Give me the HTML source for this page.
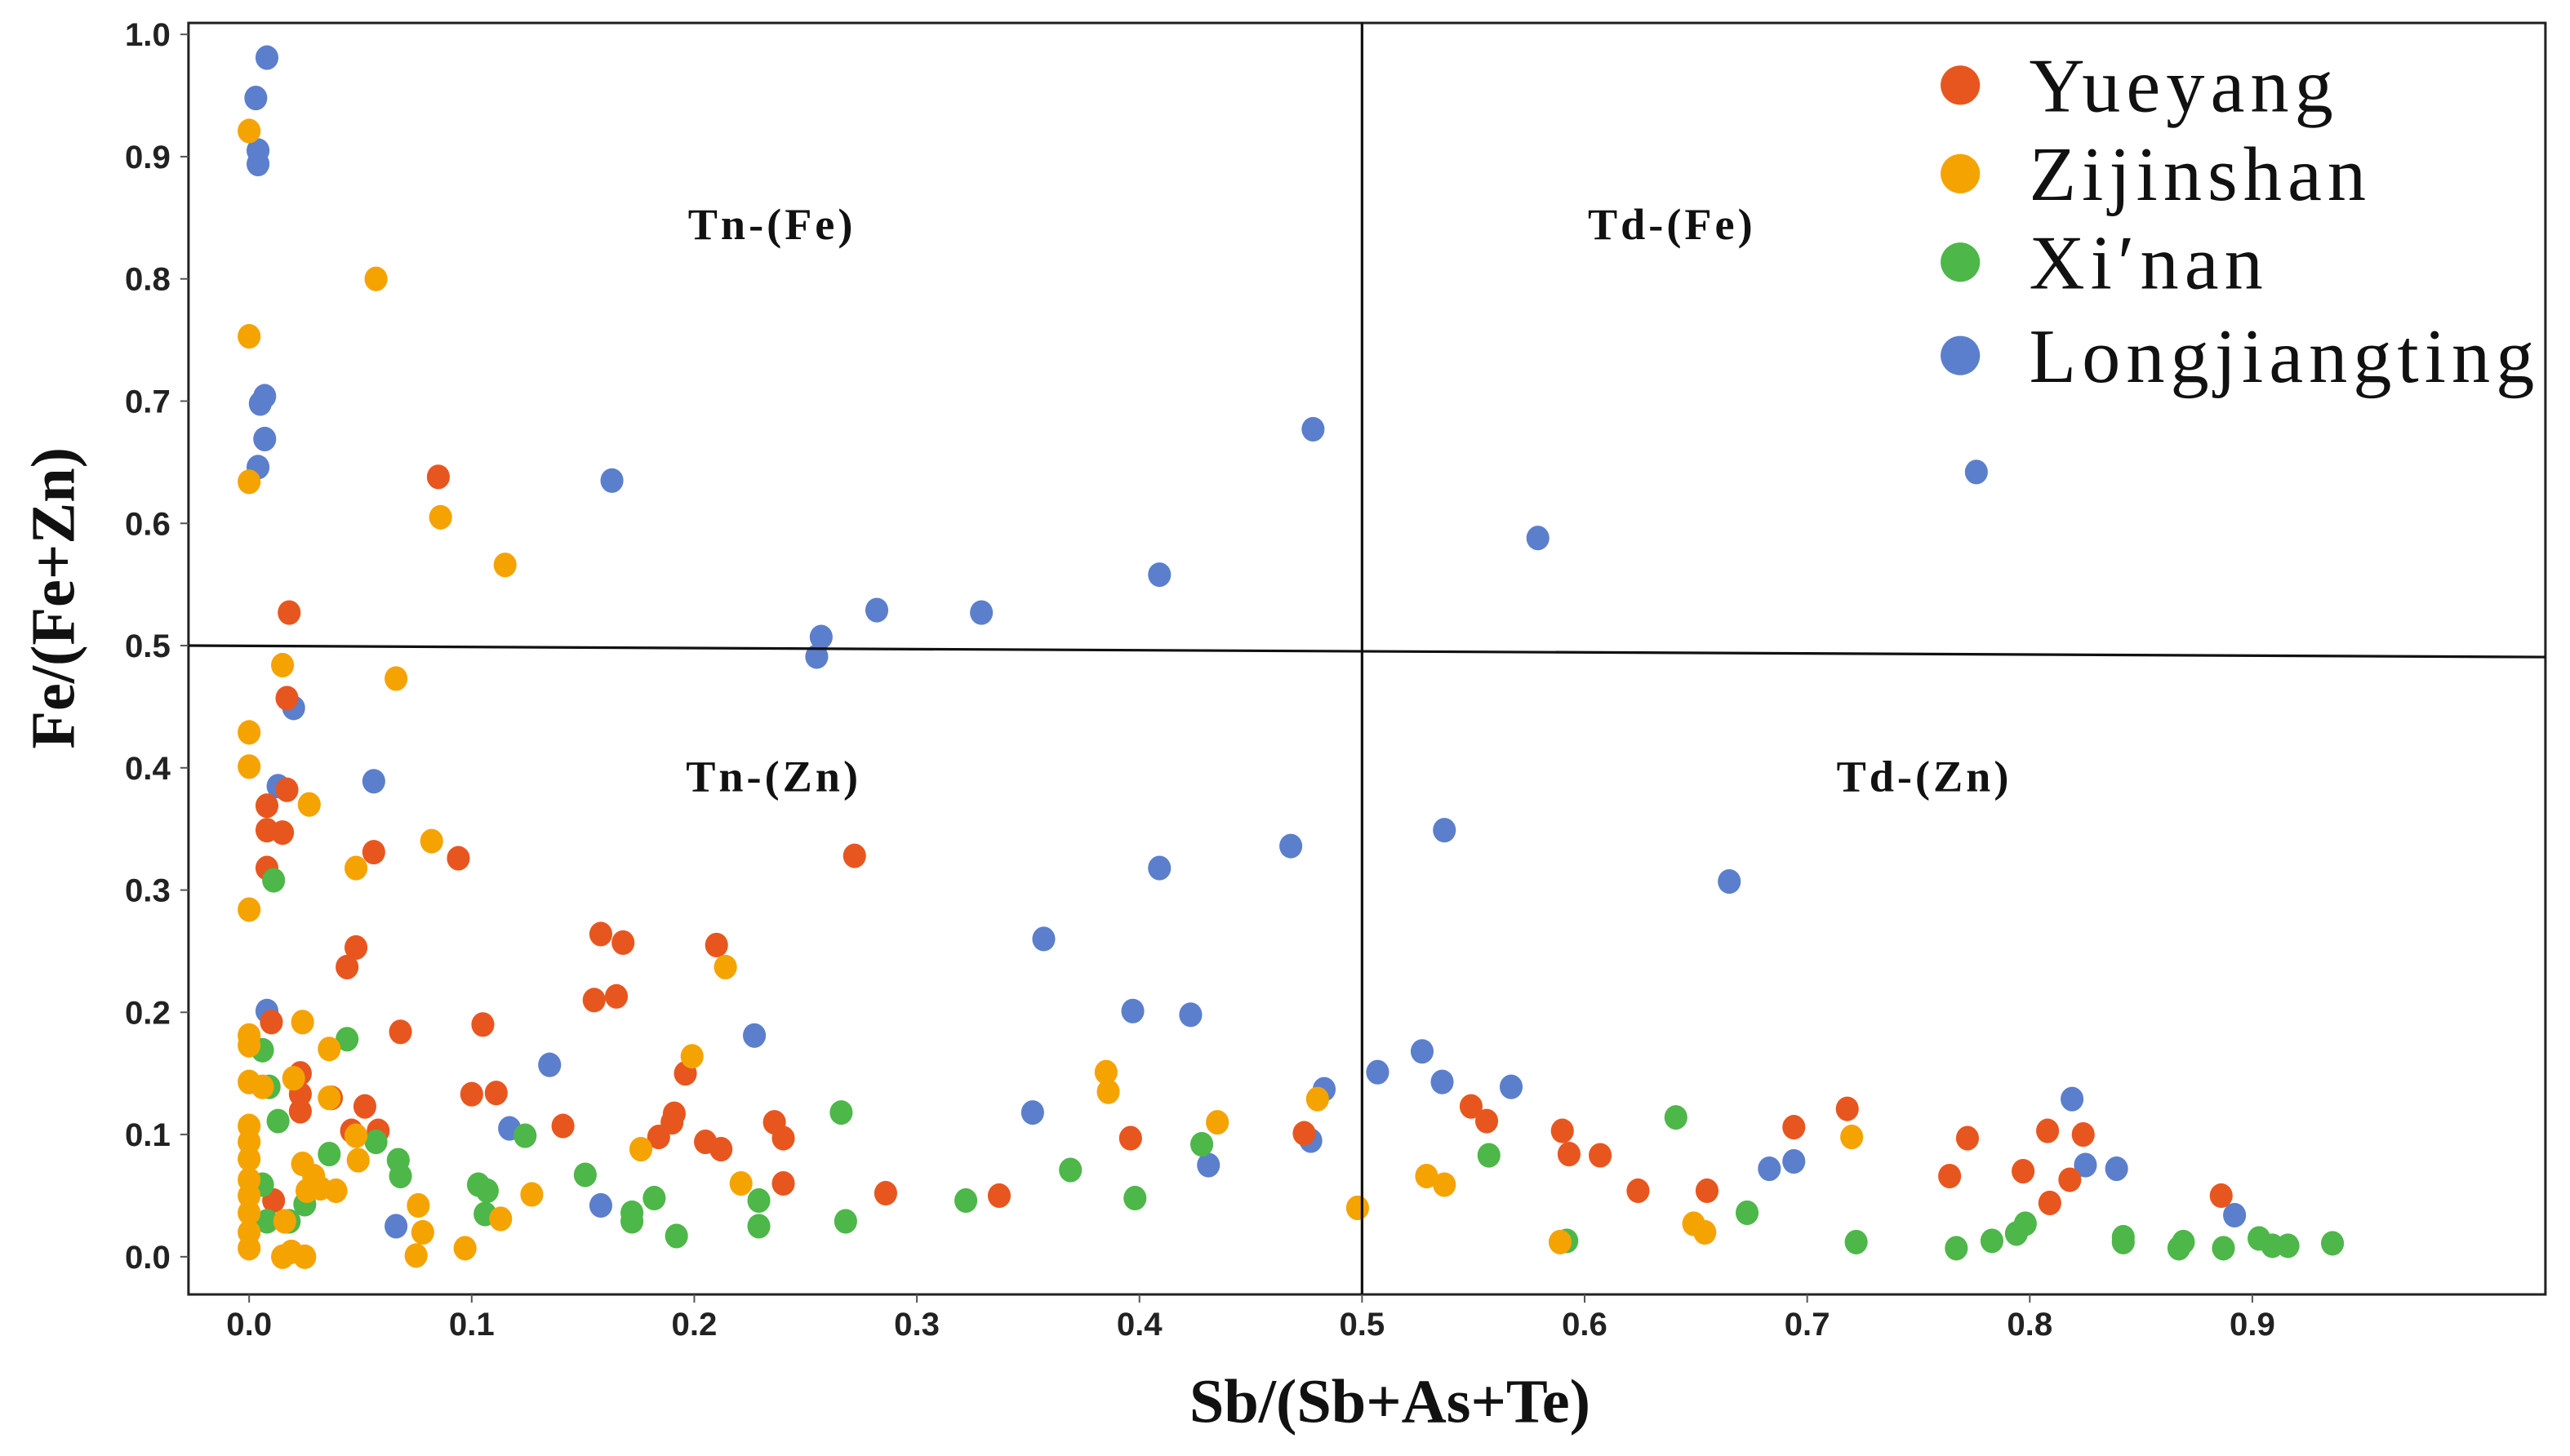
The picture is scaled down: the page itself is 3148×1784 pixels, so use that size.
<!DOCTYPE html>
<html><head><meta charset="utf-8"><style>
html,body{margin:0;padding:0;background:#fff;}
svg{display:block;}
</style></head><body>
<svg id="chart" width="3148" height="1784" viewBox="0 0 1568 888.6" preserveAspectRatio="none" xmlns="http://www.w3.org/2000/svg">
<rect x="0" y="0" width="1568" height="889" fill="#fff"/>
<rect x="115" y="14" width="1438" height="776" fill="none" stroke="#222" stroke-width="1.5"/>
<g id="ticks"></g>
<g id="points"></g>
<line x1="831" y1="14" x2="831" y2="790" stroke="#111" stroke-width="1.6"/>
<line x1="115" y1="394" x2="1553" y2="401" stroke="#111" stroke-width="1.6"/>
<g font-family="Liberation Serif, serif" font-weight="bold" font-size="27" text-anchor="middle" fill="#111" letter-spacing="2">
<text x="471" y="146">Tn-(Fe)</text>
<text x="1020" y="146">Td-(Fe)</text>
<text x="472" y="483">Tn-(Zn)</text>
<text x="1174" y="483">Td-(Zn)</text>
</g>
<text x="848" y="868" font-family="Liberation Serif, serif" font-weight="bold" font-size="38" text-anchor="middle" fill="#111">Sb/(Sb+As+Te)</text>
<text transform="translate(45,365) rotate(-90)" font-family="Liberation Serif, serif" font-weight="bold" font-size="38" text-anchor="middle" fill="#111">Fe/(Fe+Zn)</text>
<g id="legend" font-family="Liberation Serif, serif" font-size="47" fill="#111" letter-spacing="3.5"></g>
</svg>
<script>
const xTicks = [0.0,0.1,0.2,0.3,0.4,0.5,0.6,0.7,0.8,0.9];
const yTicks = [0.0,0.1,0.2,0.3,0.4,0.5,0.6,0.7,0.8,0.9,1.0];
const seriesNames = ["Yueyang","Zijinshan","Xi\u2032nan","Longjiangting"];
const seriesColors = ["#E8561F","#F5A300","#4DB749","#5B7FCC"];
const yueyangX = [0.085,0.018,0.017,0.017,0.008,0.008,0.015,0.008,0.056,0.094,0.272,0.048,0.044,0.010,0.068,0.105,0.158,0.168,0.210,0.155,0.165,0.023,0.023,0.023,0.037,0.052,0.100,0.111,0.196,0.191,0.190,0.184,0.141,0.046,0.058,0.205,0.212,0.236,0.240,0.240,0.286,0.337,0.396,0.474,0.011,0.549,0.556,0.590,0.593,0.607,0.624,0.655,0.694,0.718,0.772,0.764,0.797,0.808,0.824,0.818,0.809,0.886];
const yueyangY = [0.638,0.527,0.457,0.382,0.369,0.349,0.347,0.318,0.331,0.326,0.328,0.253,0.237,0.192,0.184,0.190,0.264,0.257,0.255,0.210,0.213,0.150,0.133,0.119,0.130,0.123,0.133,0.134,0.150,0.117,0.110,0.098,0.107,0.103,0.103,0.094,0.088,0.110,0.097,0.060,0.052,0.050,0.097,0.101,0.046,0.123,0.111,0.103,0.084,0.083,0.054,0.054,0.106,0.121,0.097,0.066,0.070,0.103,0.100,0.063,0.044,0.050];
const zijinshanX = [0,0.057,0,0,0.086,0.115,0.015,0.066,0,0,0.027,0.082,0.048,0,0.214,0,0,0.024,0.036,0,0.006,0.020,0.036,0.199,0.385,0.386,0.480,0,0,0.048,0.435,0.720,0,0,0,0,0,0,0.024,0.029,0.026,0.032,0.039,0.049,0.016,0.015,0.019,0.025,0.075,0.078,0.076,0.097,0.113,0.127,0.176,0.221,0.498,0.529,0.537,0.589,0.649,0.654];
const zijinshanY = [0.921,0.800,0.753,0.634,0.605,0.566,0.484,0.473,0.429,0.401,0.370,0.340,0.318,0.284,0.237,0.181,0.173,0.192,0.170,0.143,0.139,0.146,0.130,0.164,0.151,0.135,0.129,0.107,0.094,0.099,0.110,0.098,0.080,0.063,0.050,0.036,0.020,0.007,0.076,0.066,0.054,0.056,0.054,0.079,0.029,0.000,0.004,0.000,0.001,0.020,0.042,0.007,0.031,0.051,0.088,0.060,0.040,0.066,0.059,0.012,0.027,0.020];
const xinanX = [0.011,0.044,0.006,0.009,0.013,0.036,0.057,0.067,0.068,0.025,0.018,0.008,0.006,0.103,0.107,0.106,0.124,0.151,0.172,0.182,0.172,0.192,0.229,0.229,0.266,0.268,0.322,0.369,0.398,0.428,0.592,0.557,0.641,0.673,0.722,0.767,0.783,0.794,0.798,0.842,0.842,0.867,0.869,0.887,0.903,0.909,0.916,0.936];
const xinanY = [0.308,0.178,0.169,0.139,0.111,0.084,0.094,0.079,0.066,0.043,0.029,0.029,0.059,0.059,0.054,0.035,0.099,0.067,0.029,0.048,0.036,0.017,0.046,0.025,0.118,0.029,0.046,0.071,0.048,0.092,0.013,0.083,0.114,0.036,0.012,0.007,0.013,0.019,0.027,0.016,0.012,0.007,0.012,0.007,0.015,0.009,0.009,0.011];
const longX = [0.008,0.003,0.004,0.004,0.007,0.005,0.007,0.004,0.163,0.478,0.776,0.579,0.409,0.282,0.329,0.257,0.255,0.020,0.013,0.056,0.537,0.665,0.468,0.409,0.357,0.397,0.423,0.227,0.008,0.135,0.507,0.527,0.536,0.567,0.483,0.352,0.117,0.477,0.431,0.819,0.825,0.839,0.683,0.694,0.892,0.158,0.066];
const longY = [0.981,0.948,0.905,0.894,0.704,0.698,0.669,0.646,0.635,0.677,0.642,0.588,0.558,0.529,0.527,0.507,0.491,0.449,0.385,0.389,0.349,0.307,0.336,0.318,0.260,0.201,0.198,0.181,0.201,0.157,0.151,0.168,0.143,0.139,0.137,0.118,0.105,0.095,0.075,0.129,0.075,0.072,0.072,0.078,0.034,0.042,0.025];

const NS = "http://www.w3.org/2000/svg";
function xs(v){ return 152 + v*1358; }
function ys(v){ return 767 - v*746; }

const tg = document.getElementById('ticks');
xTicks.forEach(function(t){
  const l = document.createElementNS(NS,'line');
  l.setAttribute('x1', xs(t)); l.setAttribute('x2', xs(t));
  l.setAttribute('y1', 790); l.setAttribute('y2', 795);
  l.setAttribute('stroke', '#555'); l.setAttribute('stroke-width', '1');
  
  
  tg.appendChild(l);
  const tx = document.createElementNS(NS,'text');
  tx.setAttribute('x', xs(t)); tx.setAttribute('y', 815);
  tx.setAttribute('text-anchor', 'middle');
  tx.setAttribute('font-family', 'Liberation Sans, sans-serif');
  tx.setAttribute('font-weight', 'bold'); tx.setAttribute('font-size', '20');
  tx.setAttribute('fill', '#222');
  tx.textContent = t.toFixed(1);
  
  
  tg.appendChild(tx);
});
yTicks.forEach(function(t){
  const l = document.createElementNS(NS,'line');
  l.setAttribute('x1', 110); l.setAttribute('x2', 115);
  l.setAttribute('y1', ys(t)); l.setAttribute('y2', ys(t));
  l.setAttribute('stroke', '#555'); l.setAttribute('stroke-width', '1');
  
  
  tg.appendChild(l);
  const tx = document.createElementNS(NS,'text');
  tx.setAttribute('x', 104); tx.setAttribute('y', ys(t)+7);
  tx.setAttribute('text-anchor', 'end');
  tx.setAttribute('font-family', 'Liberation Sans, sans-serif');
  tx.setAttribute('font-weight', 'bold'); tx.setAttribute('font-size', '20');
  tx.setAttribute('fill', '#222');
  tx.textContent = t.toFixed(1);
  
  
  tg.appendChild(tx);
});

const pg = document.getElementById('points');
const allX = [yueyangX, zijinshanX, xinanX, longX];
const allY = [yueyangY, zijinshanY, xinanY, longY];
const ptNames = ['point-yueyang','point-zijinshan','point-xinan','point-longjiangting'];
[3,0,2,1].forEach(function(s){
  const xsArr = allX[s], ysArr = allY[s];
  for (let i=0;i<xsArr.length;i++){
    const c = document.createElementNS(NS,'ellipse');
    c.setAttribute('cx', xs(xsArr[i])); c.setAttribute('cy', ys(ysArr[i]));
    c.setAttribute('rx', 7); c.setAttribute('ry', 7.5);
    c.setAttribute('fill', seriesColors[s]);
    
    
    pg.appendChild(c);
  }
});

const lg = document.getElementById('legend');
const legendY = [52,106,160,217];
seriesNames.forEach(function(n,i){
  const c = document.createElementNS(NS,'circle');
  c.setAttribute('cx', 1196); c.setAttribute('cy', legendY[i]); c.setAttribute('r', 12);
  c.setAttribute('fill', seriesColors[i]);
  
  
  lg.appendChild(c);
  const t = document.createElementNS(NS,'text');
  t.setAttribute('x', 1238); t.setAttribute('y', legendY[i]+16);
  t.textContent = n;
  
  
  lg.appendChild(t);
});
</script>
</body></html>
